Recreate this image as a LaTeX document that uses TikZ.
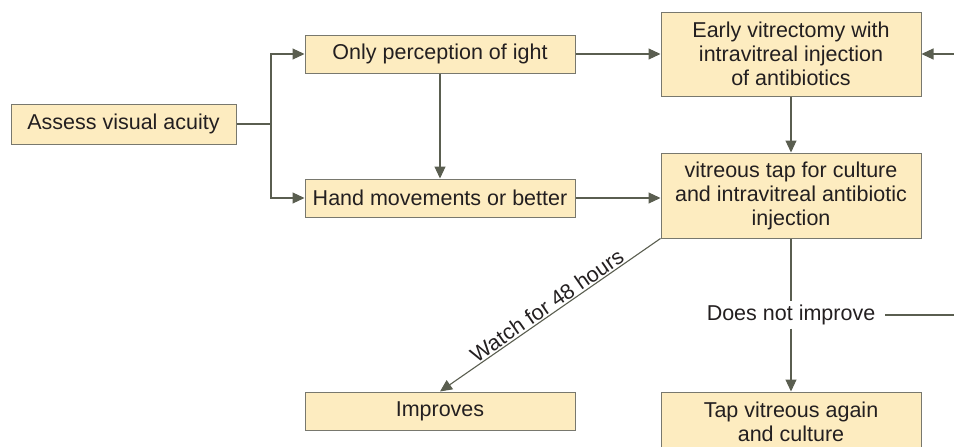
\documentclass[tikz,border=0pt]{standalone}
\usepackage{fontspec}
\setmainfont{Liberation Sans}
\usetikzlibrary{arrows.meta}
\definecolor{boxfill}{RGB}{253,236,192}
\definecolor{boxline}{RGB}{120,120,110}
\definecolor{connc}{RGB}{90,94,80}
\definecolor{txt}{RGB}{35,31,32}
\begin{document}
\begin{tikzpicture}[x=1pt,y=-1pt, font=\fontsize{21.5}{24}\selectfont, text=txt,
 box/.style={draw=boxline, fill=boxfill, line width=1pt, inner sep=0pt, align=center, minimum height=38pt},
 conn/.style={draw=connc, line width=1.1pt},
 arr/.style={conn, -{Triangle[length=12pt,width=11pt]}}]
\useasboundingbox (0,0) rectangle (954,447);
\node[box, minimum width=225pt, minimum height=40pt] (assess) at (123.5,124) {Assess visual acuity};
\node[box, minimum width=270pt] (only) at (440,54) {Only perception of ight};
\node[box, minimum width=270pt] (hand) at (440,198) {Hand movements or better};
\node[box, minimum width=260pt, minimum height=84pt] (early) at (791,54) {Early vitrectomy with\\intravitreal injection\\of antibiotics};
\node[box, minimum width=260pt, minimum height=85pt] (tap) at (791,195.5) {vitreous tap for culture\\and intravitreal antibiotic\\injection};
\node[box, minimum width=270pt] (improves) at (440,411) {Improves};
\node[box, minimum width=260pt, minimum height=60pt] (again) at (791,422) {Tap vitreous again\\and culture};
\node[inner xsep=10pt] (dni) at (791,315) {Does not improve};
\coordinate (split) at (271,124);
\coordinate (redge) at (954,315);
\coordinate (redgetop) at (954,54);
\draw[conn] (assess.east) -- (split);
\draw[arr] (split) |- (only.west);
\draw[arr] (split) |- (hand.west);
\draw[arr] (only) -- (hand);
\draw[arr] (only) -- (early);
\draw[arr] (hand.east) -- (hand.east -| tap.west);
\draw[arr] (early) -- (tap);
\draw[arr] (tap.south west) -- node[sloped, above=-2pt, pos=0.49]{Watch for 48 hours} (improves.north);
\draw[conn] (tap) -- (dni);
\draw[arr] (dni) -- (again);
\draw[conn] (dni.east) -- (redge);
\draw[arr] (redgetop) -- (early.east);
\end{tikzpicture}
\end{document}
